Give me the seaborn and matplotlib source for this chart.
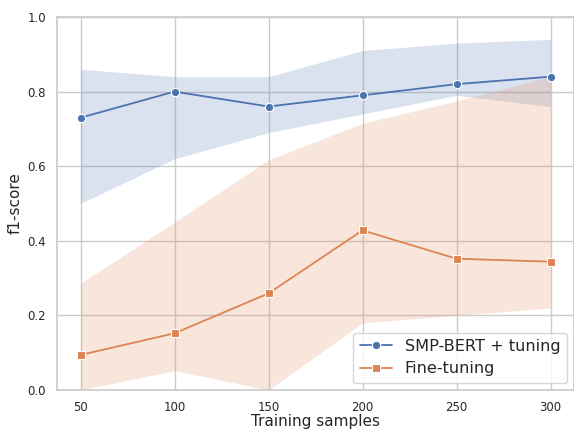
import numpy as np
import pandas as pd
import matplotlib
matplotlib.use('Agg')
import matplotlib.pyplot as plt
import seaborn as sns

# values
samples = [50, 100, 150, 200, 250, 300]

smp_mean = [0.73, 0.80, 0.76, 0.79, 0.82, 0.84]
smp_low = [0.50, 0.62, 0.69, 0.74, 0.79, 0.76]
smp_high = [0.86, 0.84, 0.84, 0.91, 0.93, 0.94]

ft_mean = [0.094, 0.152, 0.259, 0.428, 0.352, 0.344]
ft_low = [0.0, 0.052, 0.0, 0.18, 0.20, 0.22]
ft_high = [0.286, 0.45, 0.617, 0.715, 0.775, 0.84]

methods = ['SMP-BERT + tuning', 'Fine-tuning']

sns.set_theme(style='whitegrid')
pal = sns.color_palette('deep')

df = pd.DataFrame({
    'Training samples': samples * 2,
    'f1-score': smp_mean + ft_mean,
    'method': [methods[0]] * len(samples) + [methods[1]] * len(samples),
})

fig, ax = plt.subplots(figsize=(5.74, 4.3), dpi=100)
fig.subplots_adjust(left=57/574, right=1.0, top=1 - 17/430, bottom=1 - 390/430)

ax.fill_between(samples, smp_low, smp_high, color=pal[0], alpha=0.2, linewidth=0)
ax.fill_between(samples, ft_low, ft_high, color=pal[1], alpha=0.2, linewidth=0)

sns.lineplot(data=df, x='Training samples', y='f1-score', hue='method', style='method',
             markers=['o', 's'], dashes=False, palette=pal[:2], linewidth=1.3,
             markersize=6, markeredgecolor='white', markeredgewidth=0.8, ax=ax)

ax.set_xlim(37.5, 312.5)
ax.set_ylim(0, 1.0)
ax.set_xticks(samples)
ax.set_yticks([0.0, 0.2, 0.4, 0.6, 0.8, 1.0])
ax.tick_params(labelsize=8.5, pad=2)
ax.set_xlabel('Training samples', fontsize=11, labelpad=0)
ax.set_ylabel('f1-score', fontsize=11, labelpad=3)

handles, labels = ax.get_legend_handles_labels()
ax.legend(handles[-2:], labels[-2:], loc='lower right', fontsize=11.6,
          frameon=True, borderaxespad=0.45, labelspacing=0.45)

plt.savefig('out.png', dpi=100)
